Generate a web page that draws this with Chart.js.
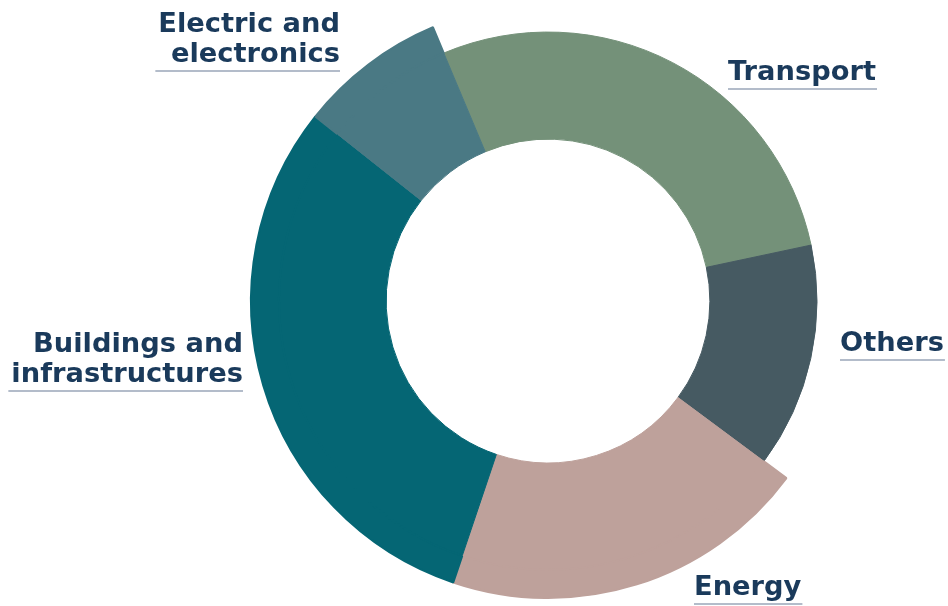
<!DOCTYPE html>
<html lang="en">

<head>
    <meta charset="UTF-8">
    <script src="https://cdn.jsdelivr.net/npm/chart.js@4.4.1/dist/chart.umd.min.js"></script>
    <title>Sectors</title>
    <style>
        body {
            margin: 0;
            background: #fff;
        }

        #wrap {
            width: 948px;
            height: 606px;
            position: relative;
        }
    </style>
</head>

<body>
    <div id="wrap">
        <canvas id="sectors"></canvas>
    </div>
</body>
<script>
    const sectors = ['Transport', 'Others', 'Energy', 'Buildings and infrastructures', 'Electric and electronics'];
    const shares = [28, 13.5, 20, 30.5, 8];

    const colors = ['#749179', '#465a62', '#bea19b', '#056674', '#4a7984'];
    // the outer band only shows on the three larger-radius sectors
    const outerColors = ['rgba(0,0,0,0)', 'rgba(0,0,0,0)', '#bea19b', '#056674', '#4a7984'];

    const textColor = '#1a3a5b';
    const ruleColor = '#9aa6b8';

    // label text lines and where they sit
    const callouts = [
        { lines: ['Electric and', 'electronics'], x: 340, y: 32, align: 'right' },
        { lines: ['Transport'], x: 728, y: 80, align: 'left' },
        { lines: ['Others'], x: 840, y: 351, align: 'left' },
        { lines: ['Energy'], x: 694, y: 595, align: 'left' },
        { lines: ['Buildings and', 'infrastructures'], x: 243, y: 352, align: 'right' },
    ];

    const calloutPlugin = {
        id: 'callouts',
        afterDraw(chart) {
            const ctx = chart.ctx;
            const sx = 1.05;
            ctx.save();
            ctx.font = 'bold 26px "DejaVu Sans"';
            ctx.fillStyle = textColor;
            ctx.textBaseline = 'alphabetic';
            callouts.forEach(c => {
                let w = 0;
                c.lines.forEach((t, i) => {
                    const tw = ctx.measureText(t).width * sx;
                    w = Math.max(w, tw);
                    const left = c.align === 'right' ? c.x - tw : c.x;
                    ctx.save();
                    ctx.translate(left, c.y + i * 30);
                    ctx.scale(sx, 1);
                    ctx.fillText(t, 0, 0);
                    ctx.restore();
                });
                const ly = c.y + (c.lines.length - 1) * 30 + 9;
                const x0 = c.align === 'right' ? c.x - w - 3 : c.x;
                const x1 = c.align === 'right' ? c.x : c.x + w + 1;
                ctx.strokeStyle = ruleColor;
                ctx.lineWidth = 1.5;
                ctx.beginPath();
                ctx.moveTo(x0, ly);
                ctx.lineTo(x1, ly);
                ctx.stroke();
            });
            ctx.restore();
        }
    };

    const ctx = document.getElementById('sectors').getContext('2d');
    const chart = new Chart(ctx, {
        type: 'doughnut',
        data: {
            labels: sectors,
            datasets: [{
                data: shares,
                backgroundColor: outerColors,
                borderColor: outerColors,
                borderWidth: 2,
                weight: 28,
            }, {
                data: shares,
                backgroundColor: colors,
                borderColor: colors,
                borderWidth: 1,
                weight: 107,
            }]
        },
        options: {
            responsive: true,
            maintainAspectRatio: false,
            animation: false,
            rotation: -22.8,
            cutout: '54.5%',
            layout: {
                padding: { left: 250, right: 102, top: 3, bottom: 7 }
            },
            plugins: {
                legend: { display: false },
                tooltip: { enabled: false }
            }
        },
        plugins: [calloutPlugin]
    });
</script>

</html>
